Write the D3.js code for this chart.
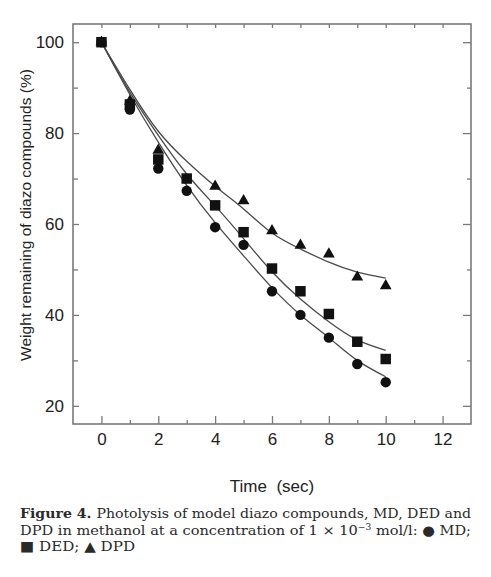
<!DOCTYPE html>
<html>
<head>
<meta charset="utf-8">
<script src="https://cdn.jsdelivr.net/npm/d3@7"></script>
<style>
  html, body { margin: 0; padding: 0; background: #fff; }
  svg { display: block; }
</style>
</head>
<body>
<script>
// ---- data ----
const timeTicks = [0, 2, 4, 6, 8, 10, 12];
const timeMinor = [1, 3, 5, 7, 9, 11];
const weightTicks = [20, 40, 60, 80, 100];
const weightMinor = [30, 50, 70, 90];

const mdTime  = [0, 1, 2, 3, 4, 5, 6, 7, 8, 9, 10];
const mdValue = [100, 85.2, 72.2, 67.3, 59.3, 55.4, 45.2, 40, 35, 29.2, 25.2];

const dedTime  = [0, 1, 2, 3, 4, 5, 6, 7, 8, 9, 10];
const dedValue = [100, 86.3, 74.2, 70, 64.1, 58.2, 50.2, 45.2, 40.2, 34.1, 30.3];

const dpdTime  = [0, 1, 2, 4, 5, 6, 7, 8, 9, 10];
const dpdValue = [100, 87, 76.2, 68.3, 65.1, 58.5, 55.3, 53.4, 48.3, 46.4];

// fitted curves
const fitTime = [0, 1, 2, 3, 4, 5, 6, 7, 8, 9, 10];
const mdFit   = [100, 88.5, 78, 68.5, 60.3, 53, 46, 40, 35, 30, 26.4];
const dedFit  = [100, 89, 79.5, 71, 64, 56.8, 49.5, 43.5, 38.5, 34.5, 32.2];
const dpdFit  = [100, 89.6, 80.4, 73.8, 68.3, 63.3, 58, 54.5, 51.6, 49.4, 48.1];

// ---- drawing ----
const W = 491, H = 577;
const svg = d3.select("body").append("svg").attr("width", W).attr("height", H);

const x = d3.scaleLinear().domain([-1, 13]).range([73, 471]);
const y = d3.scaleLinear().domain([16, 104]).range([424, 24]);

const axisColor = "#7a7a7a";
const sans = "'Liberation Sans', Arial, sans-serif";
const serif = "'DejaVu Serif', 'Liberation Serif', serif";

function styleAxis(g) {
  g.select(".domain").remove();
  g.selectAll(".tick line").attr("stroke", axisColor).attr("stroke-width", 1.3);
  g.selectAll(".tick text").attr("fill", "#222").style("font-family", sans).style("font-size", "17px");
}

// bottom axis
svg.append("g").attr("transform", `translate(0,${y.range()[0]})`)
  .call(d3.axisBottom(x).tickValues(timeTicks).tickSize(-8).tickPadding(9).tickFormat(d3.format("d")))
  .call(styleAxis);
svg.append("g").attr("transform", `translate(0,${y.range()[0]})`)
  .call(d3.axisBottom(x).tickValues(timeMinor).tickSize(-4).tickFormat(""))
  .call(styleAxis);
// top axis
svg.append("g").attr("transform", `translate(0,${y.range()[1]})`)
  .call(d3.axisTop(x).tickValues(timeTicks.concat(timeMinor)).tickSize(-4).tickFormat(""))
  .call(styleAxis);
// left axis
svg.append("g").attr("transform", `translate(${x.range()[0]},0)`)
  .call(d3.axisLeft(y).tickValues(weightTicks).tickSize(-6).tickPadding(9).tickFormat(d3.format("d")))
  .call(styleAxis);
svg.append("g").attr("transform", `translate(${x.range()[0]},0)`)
  .call(d3.axisLeft(y).tickValues(weightMinor).tickSize(-5).tickFormat(""))
  .call(styleAxis);
// right axis
svg.append("g").attr("transform", `translate(${x.range()[1]},0)`)
  .call(d3.axisRight(y).tickValues(weightTicks).tickSize(-8).tickFormat(""))
  .call(styleAxis);
svg.append("g").attr("transform", `translate(${x.range()[1]},0)`)
  .call(d3.axisRight(y).tickValues(weightMinor).tickSize(-4).tickFormat(""))
  .call(styleAxis);

// frame
svg.append("rect")
  .attr("x", x.range()[0]).attr("y", y.range()[1])
  .attr("width", x.range()[1] - x.range()[0])
  .attr("height", y.range()[0] - y.range()[1])
  .attr("fill", "none").attr("stroke", axisColor).attr("stroke-width", 1.6);

// fitted curves
const line = d3.line().x(d => x(d[0])).y(d => y(d[1])).curve(d3.curveNatural);
[mdFit, dedFit, dpdFit].forEach(fit => {
  svg.append("path")
    .datum(fitTime.map((t, i) => [t, fit[i]]))
    .attr("d", line)
    .attr("fill", "none")
    .attr("stroke", "#4a4a4a")
    .attr("stroke-width", 1.3);
});

// markers
const markColor = "#111";
const mk = (sym, size) => d3.symbol().type(sym).size(size)();

function drawSeries(times, values, sym, size) {
  svg.append("g").selectAll("path")
    .data(times.map((t, i) => [t, values[i]]))
    .join("path")
    .attr("d", mk(sym, size))
    .attr("transform", d => `translate(${x(d[0])},${y(d[1])})`)
    .attr("fill", markColor);
}
drawSeries(dpdTime, dpdValue, d3.symbolTriangle, 60);
drawSeries(mdTime, mdValue, d3.symbolCircle, 85);
drawSeries(dedTime, dedValue, d3.symbolSquare, 110);

// axis titles
svg.append("text")
  .attr("transform", `translate(31,215) rotate(-90)`)
  .attr("text-anchor", "middle")
  .attr("fill", "#222")
  .style("font-family", sans).style("font-size", "15.5px")
  .text("Weight remaining of diazo compounds (%)");

svg.append("text")
  .attr("x", 272).attr("y", 492)
  .attr("text-anchor", "middle")
  .attr("fill", "#222")
  .style("font-family", sans).style("font-size", "17px")
  .attr("xml:space", "preserve")
  .text("Time  (sec)");

// caption
const cap = svg.append("g").style("font-family", serif).style("font-size", "13.5px").attr("fill", "#2a2a2a");
const l1 = cap.append("text").attr("x", 20).attr("y", 518).attr("textLength", 451).attr("lengthAdjust", "spacingAndGlyphs");
l1.append("tspan").style("font-weight", "bold").text("Figure 4. ");
l1.append("tspan").text("Photolysis of model diazo compounds, MD, DED and");

const l2 = cap.append("text").attr("x", 20).attr("y", 535).attr("textLength", 451).attr("lengthAdjust", "spacingAndGlyphs");
l2.append("tspan").text("DPD in methanol at a concentration of 1 × 10");
l2.append("tspan").attr("dy", -5).style("font-size", "8.5px").text("−3");
l2.append("tspan").attr("dy", 5).text(" mol/l: ● MD;");

cap.append("text").attr("x", 20).attr("y", 551).attr("textLength", 115).attr("lengthAdjust", "spacingAndGlyphs")
  .text("■ DED; ▲ DPD");
</script>
</body>
</html>
